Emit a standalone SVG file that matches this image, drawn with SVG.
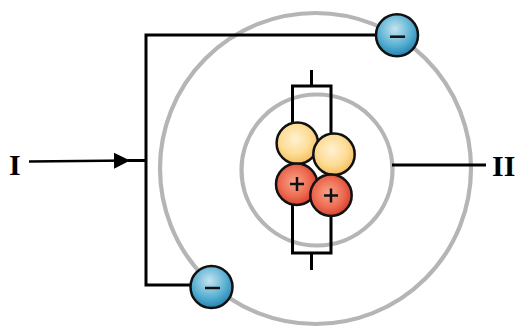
<svg xmlns="http://www.w3.org/2000/svg" width="517" height="327" viewBox="0 0 517 327">
<style>
.orbit{fill:none;stroke:#b5b5b5;stroke-width:4.200}
.wire{fill:none;stroke:#000;stroke-width:3}
.ball{stroke:#111;stroke-width:2.500}
.sign{stroke:#111;stroke-width:2.500;fill:none}
.lbl{font-family:"Liberation Serif",serif;font-weight:bold;font-size:30px;fill:#000}
</style>
<defs>
<radialGradient id="n" cx="0.45" cy="0.4" r="0.6"><stop offset="0" stop-color="#fff1d2"/><stop offset="0.6" stop-color="#fddc95"/><stop offset="1" stop-color="#f4bd5e"/></radialGradient>
<radialGradient id="p" cx="0.45" cy="0.45" r="0.6"><stop offset="0" stop-color="#f9a58c"/><stop offset="0.6" stop-color="#ec6a50"/><stop offset="1" stop-color="#d4372a"/></radialGradient>
<radialGradient id="e" cx="0.45" cy="0.35" r="0.65"><stop offset="0" stop-color="#c4e3f0"/><stop offset="0.6" stop-color="#5cb2d4"/><stop offset="1" stop-color="#2384b0"/></radialGradient>
<marker id="arr" markerUnits="userSpaceOnUse" markerWidth="18" markerHeight="16" refX="16" refY="8" orient="auto"><path d="M0 0L16 8L0 16Z" fill="#000"/></marker>
</defs>
<g id="orbits"><circle class="orbit" cx="315.500" cy="168.500" r="155.500"/><circle class="orbit" cx="317" cy="170" r="75.500"/></g>
<g id="connectors">
<path class="wire" d="M396 35H146V285H195"/>
<path d="M29 161.500L130 160.500" fill="none" stroke="#000" stroke-width="2.500" marker-end="url(#arr)"/>
<path class="wire" d="M128 160.500H146"/>
<path class="wire" d="M292.500 125V86H331V135M292.500 200V253H331V200M311.500 70V86M311.500 253V270M392 165H486"/>
</g>
<g id="nucleus">
<circle class="ball" cx="297.300" cy="143.300" r="20.700" fill="url(#n)"/>
<circle class="ball" cx="334" cy="154.300" r="20.700" fill="url(#n)"/>
<circle class="ball" cx="296.700" cy="184.300" r="20.700" fill="url(#p)"/>
<circle class="ball" cx="331" cy="195.300" r="20.700" fill="url(#p)"/>
<path class="sign" d="M290 184H304M297 177V191M324 195.500H338M331 188.500V202.500"/>
</g>
<g id="electron-top"><circle class="ball" cx="397" cy="35.300" r="21" fill="url(#e)"/><path class="sign" d="M390 36.700H405"/></g>
<g id="electron-bottom"><circle class="ball" cx="211.500" cy="287" r="21" fill="url(#e)"/><path class="sign" d="M205 288H220"/></g>
<g id="label-I"><text class="lbl" x="9" y="175">I</text></g>
<g id="label-II"><text class="lbl" x="492" y="175.500">II</text></g>
</svg>
